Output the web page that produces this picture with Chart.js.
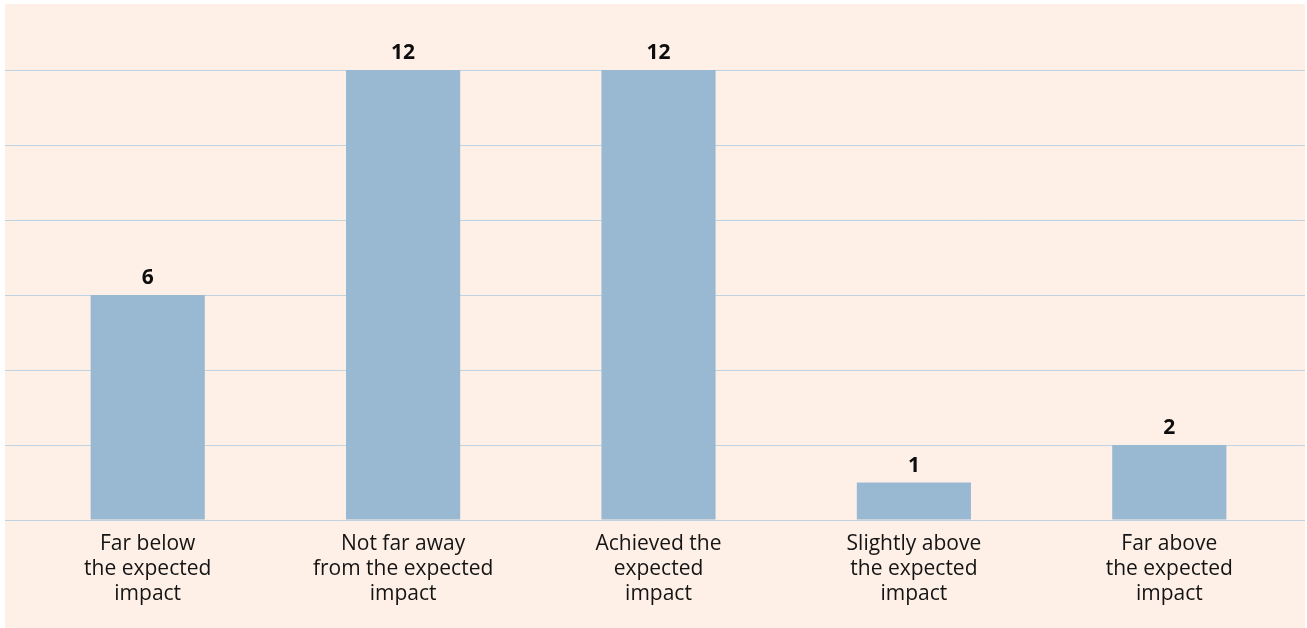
<!DOCTYPE html>
<html>
<head>
<meta charset="utf-8">
<script src="https://cdn.jsdelivr.net/npm/chart.js@4/dist/chart.umd.min.js"></script>
<style>
  html, body { margin: 0; padding: 0; background: #fff; }
  #wrap { position: absolute; left: 5px; top: 4px; width: 1300px; height: 624px; background: #fef0e7; }
</style>
</head>
<body>
<div id="wrap"><canvas id="impactChart"></canvas></div>
<script>
const categories = [
  ["Far below", "the expected", "impact"],
  ["Not far away", "from the expected", "impact"],
  ["Achieved the", "expected", "impact"],
  ["Slightly above", "the expected", "impact"],
  ["Far above", "the expected", "impact"]
];
const counts = [6, 12, 12, 1, 2];

const BAR = "#99b9d3";
const GRID = "#c0d3e3";
const TEXT = "#141414";

// value labels above each bar
const valueLabels = {
  id: "valueLabels",
  afterDatasetsDraw(chart) {
    const { ctx } = chart;
    const meta = chart.getDatasetMeta(0);
    ctx.save();
    ctx.font = "bold 21px 'Open Sans'";
    ctx.fillStyle = "#0d0d0d";
    ctx.textAlign = "center";
    ctx.textBaseline = "bottom";
    meta.data.forEach((bar, i) => {
      ctx.fillText(String(counts[i]), bar.x, bar.y - 6);
    });
    ctx.restore();
  }
};

new Chart(document.getElementById("impactChart"), {
  type: "bar",
  data: {
    labels: categories,
    datasets: [{
      data: counts,
      backgroundColor: BAR,
      borderWidth: 0,
      categoryPercentage: 1,
      barPercentage: 0.447
    }]
  },
  options: {
    responsive: true,
    maintainAspectRatio: false,
    animation: false,
    layout: { padding: { top: 66, bottom: 17, left: 0, right: 0 } },
    plugins: { legend: { display: false }, tooltip: { enabled: false } },
    scales: {
      x: {
        grid: { display: false },
        border: { display: false },
        ticks: {
          color: TEXT,
          padding: 4,
          maxRotation: 0,
          autoSkip: false,
          font: { family: "'Open Sans'", size: 21, lineHeight: "25px" }
        }
      },
      y: {
        min: 0,
        max: 12,
        position: "left",
        grid: { color: GRID, lineWidth: 1, drawTicks: true, tickLength: 15, tickColor: GRID },
        border: { display: false },
        ticks: { display: false, stepSize: 2 }
      },
      yRight: {
        min: 0,
        max: 12,
        position: "right",
        grid: { color: GRID, drawOnChartArea: false, drawTicks: true, tickLength: 8, tickColor: GRID },
        border: { display: false },
        ticks: { display: false, stepSize: 2 }
      }
    }
  },
  plugins: [valueLabels]
});
</script>
</body>
</html>
